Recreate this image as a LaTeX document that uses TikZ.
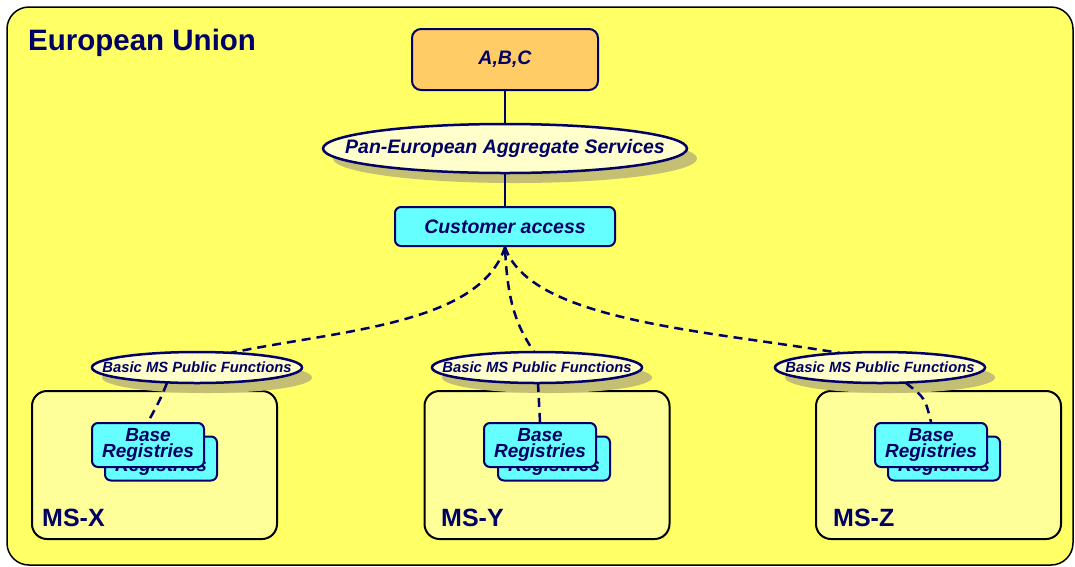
\documentclass[tikz,border=0pt]{standalone}
\usepackage{fontspec}
\setmainfont{Liberation Sans}
\usetikzlibrary{shapes.geometric,arrows.meta}
\definecolor{navy}{HTML}{000066}
\definecolor{euyellow}{HTML}{FFFF66}
\definecolor{msyellow}{HTML}{FFFF99}
\definecolor{paleyellow}{HTML}{FFFFCC}
\definecolor{cyanbox}{HTML}{66FFFF}
\definecolor{orangebox}{HTML}{FFCC66}
\definecolor{shadowcol}{HTML}{C4BF72}
\tikzset{
  euframe/.style={draw=black, line width=1.5pt, fill=euyellow, rounded corners=22pt,
    minimum width=1066pt, minimum height=558pt, inner sep=0pt},
  title/.style={text=navy, font=\bfseries\fontsize{29.5}{30}\selectfont, inner sep=0pt},
  mslabel/.style={text=navy, font=\bfseries\fontsize{25}{26}\selectfont, inner sep=0pt},
  abcbox/.style={draw=navy, line width=2pt, fill=orangebox, rounded corners=9pt,
    minimum width=186pt, minimum height=61pt, inner sep=0pt, text=navy,
    font=\bfseries\itshape\fontsize{19.5}{20}\selectfont},
  cabox/.style={draw=navy, line width=2pt, fill=cyanbox, rounded corners=6pt,
    minimum width=220pt, minimum height=39pt, inner sep=0pt, text=navy,
    font=\bfseries\itshape\fontsize{19.5}{20}\selectfont},
  bigtext/.style={inner sep=0pt, text=navy, font=\bfseries\itshape\fontsize{19.5}{20}\selectfont},
  smalltext/.style={inner sep=0pt, text=navy, font=\bfseries\itshape\fontsize{14.8}{15}\selectfont},
  ellshape/.style={draw=navy, line width=2.5pt, fill=paleyellow},
  ellshadow/.style={fill=shadowcol},
  msbox/.style={draw=black, line width=2pt, fill=msyellow, rounded corners=15pt,
    minimum width=245pt, minimum height=148pt, inner sep=0pt},
  regbox/.style={draw=navy, line width=2pt, fill=cyanbox, rounded corners=6pt,
    minimum width=112pt, minimum height=44pt, inner sep=0pt, text=navy, align=center,
    font=\bfseries\itshape\fontsize{19}{16.5}\selectfont},
  solidlink/.style={draw=navy, line width=2pt},
  dashlink/.style={draw=navy, line width=2.5pt, dash pattern=on 9pt off 6pt},
}
\begin{document}
\begin{tikzpicture}[x=1pt,y=-1pt]
\useasboundingbox (0,0) rectangle (1075,566);
\node[euframe] (eu) at (540,286) {};
\node[title, anchor=base west] (eutitle) at (28,50) {European Union};

% MS boxes
\node[msbox] (msx) at (154.5,465) {};
\node[msbox] (msy) at (547,465) {};
\node[msbox] (msz) at (938.5,465) {};
\node[mslabel, anchor=base west] (msxl) at (42,526) {MS-X};
\node[mslabel, anchor=base west] (msyl) at (441,526) {MS-Y};
\node[mslabel, anchor=base west] (mszl) at (833,526) {MS-Z};

% shadows
\fill[ellshadow] (515,158.5) ellipse [x radius=182, y radius=24.5];
\fill[ellshadow] (207,377.5) ellipse [x radius=105, y radius=15.5];
\fill[ellshadow] (547,377.5) ellipse [x radius=105, y radius=15.5];
\fill[ellshadow] (890,377.5) ellipse [x radius=105, y radius=15.5];

% main nodes
\node[abcbox] (abc) at (505,59.5) {A,B,C};
\node[cabox] (ca) at (505,226.5) {Customer access};

% registries (back copies first)
\node[regbox] (r1b) at (161,458.5) {Base\\Registries};
\node[regbox] (r2b) at (554,458.5) {Base\\Registries};
\node[regbox] (r3b) at (944,458.5) {Base\\Registries};
\node[regbox] (r1) at (148,445) {Base\\Registries};
\node[regbox] (r2) at (540,445) {Base\\Registries};
\node[regbox] (r3) at (931,445) {Base\\Registries};

% ellipse coordinates for link ends
\coordinate (pantop) at (505,124);
\coordinate (panbot) at (505,173);
\coordinate (f1top) at (230,353);
\coordinate (f2top) at (534,352);
\coordinate (f3top) at (840,353);
\coordinate (f1bot) at (167,383);
\coordinate (f2bot) at (538,383);
\coordinate (f3bot) at (906,383);

% links
\draw[solidlink] (abc.south) -- (pantop);
\draw[solidlink] (panbot) -- (ca.north);
\draw[dashlink] (ca.south) .. controls (480,325) and (340,330) .. (f1top);
\draw[dashlink, {Stealth[length=7pt,width=6pt]}-] (ca.south) .. controls (508,310) and (520,330) .. (f2top);
\draw[dashlink] (ca.south) .. controls (530,320) and (700,330) .. (f3top);
\draw[dashlink] (f1bot) .. controls (160,400) .. (r1.north);
\draw[dashlink] (f2bot) -- (r2.north);
\draw[dashlink] (f3bot) .. controls (925,398) .. (r3.north);

% ellipses on top
\path[ellshape] (505,148.5) ellipse [x radius=182, y radius=24.5];
\path[ellshape] (197,367.5) ellipse [x radius=105, y radius=15.5];
\path[ellshape] (537,367.5) ellipse [x radius=105, y radius=15.5];
\path[ellshape] (880,367.5) ellipse [x radius=105, y radius=15.5];
\node[bigtext] (pan) at (505,148.5) {Pan-European Aggregate Services};
\node[smalltext] (f1) at (197,367.5) {Basic MS Public Functions};
\node[smalltext] (f2) at (537,367.5) {Basic MS Public Functions};
\node[smalltext] (f3) at (880,367.5) {Basic MS Public Functions};
\end{tikzpicture}
\end{document}
